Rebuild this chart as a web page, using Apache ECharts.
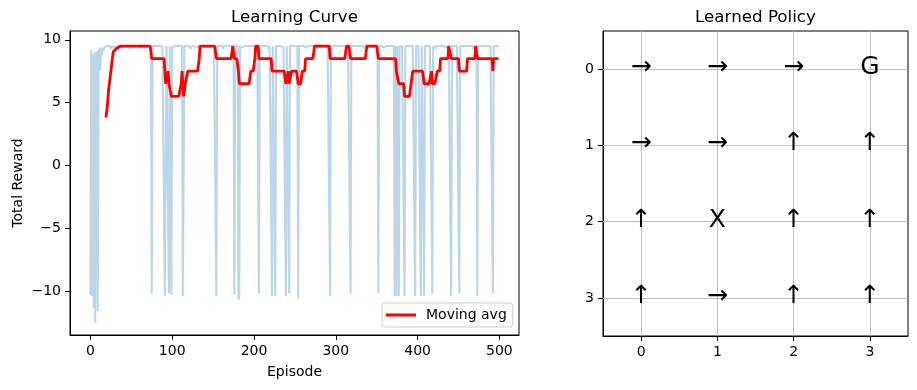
<!DOCTYPE html>
<html><head><meta charset="utf-8">
<script src="https://cdn.jsdelivr.net/npm/echarts@6/dist/echarts.min.js"></script>
<style>html,body{margin:0;padding:0;background:#fff}#c{width:917px;height:390px}</style>
</head><body><div id="c"></div>
<script>
// ---------- data ----------
const MA_START = 19; // first episode with a 20-episode moving average

// total reward per episode (0..499)
const rewards = [
 -10.3,9.2,-10.4,8.8,-11.4,9.0,-12.5,8.6,9.1,-11.6,8.9,9.3,7.6,9.4,8.8,9.3,9.1,9.4,9.4,9.5,
 9.5,9.5,9.4,9.5,9.5,9.3,9.5,9.5,9.5,9.4,9.5,9.5,9.5,9.5,9.2,9.5,9.5,9.5,9.4,9.5,
 9.5,9.5,9.5,9.4,9.5,9.5,9.5,9.5,9.3,9.5,9.5,9.5,9.5,9.5,9.4,9.5,9.5,9.5,9.5,9.5,
 9.5,9.4,9.5,9.5,9.5,9.5,9.5,9.3,9.5,9.5,9.5,9.5,9.5,9.5,9.5,-10.2,9.5,9.5,9.4,9.5,
 9.5,9.5,9.5,9.5,9.4,9.5,9.5,9.5,9.5,9.5,9.5,-10.4,-10.3,9.5,9.5,9.5,-10.2,9.5,9.5,-10.3,
 9.4,9.5,9.5,9.5,9.5,9.5,9.5,9.5,9.5,9.5,9.5,9.5,9.5,-10.4,-10.3,9.5,9.5,9.4,9.5,9.5,
 9.5,9.5,9.5,9.3,9.5,9.5,9.5,9.5,9.5,9.5,9.4,9.5,9.5,9.5,9.5,9.5,9.5,9.5,9.5,9.5,
 9.5,9.5,9.5,9.5,9.5,9.4,9.5,9.5,9.5,9.5,9.5,9.5,9.5,9.5,-10.4,9.5,9.5,9.5,9.5,9.5,
 9.5,9.5,9.3,9.5,9.5,9.5,9.5,9.5,9.5,9.5,9.5,9.5,9.5,9.5,9.5,9.5,-10.3,9.5,9.5,9.5,
 9.5,-10.7,-10.4,9.5,9.5,9.5,9.4,9.5,9.5,9.5,9.5,9.5,9.5,9.5,9.5,9.5,9.5,9.5,9.5,9.5,
 9.5,9.5,9.5,9.5,9.5,9.5,-10.2,9.5,9.5,9.5,9.5,9.4,9.5,9.5,9.5,9.5,9.5,9.5,9.3,9.5,
 9.5,9.5,-10.4,9.5,9.5,9.5,-10.4,9.5,9.5,9.5,9.5,9.5,9.5,9.5,9.5,9.5,9.4,9.5,9.5,-10.4,
 9.5,9.5,9.5,-10.2,9.5,9.5,9.5,9.5,9.5,9.5,9.5,9.5,9.5,9.5,-10.6,9.5,9.5,9.5,9.5,9.5,
 9.5,9.5,9.5,9.5,9.4,9.5,9.5,9.5,9.5,9.5,9.5,9.5,9.5,9.5,9.5,9.5,9.5,9.3,9.5,9.5,
 9.5,9.5,9.5,9.5,9.5,9.5,9.5,9.5,9.5,9.5,9.5,9.5,9.5,-10.4,9.5,9.5,9.5,9.5,9.4,9.5,
 9.5,9.5,9.5,9.5,9.5,9.5,9.5,9.5,9.5,9.5,9.5,9.5,9.5,9.5,9.5,9.5,9.5,9.5,-10.2,9.5,
 9.5,9.5,9.5,9.4,9.5,9.5,9.5,9.5,9.5,9.5,9.5,9.5,9.5,9.5,9.5,9.3,9.5,9.5,9.5,9.5,
 9.5,9.5,9.5,9.5,9.5,9.5,9.5,9.5,9.5,9.5,9.5,9.5,-10.2,9.5,9.5,9.5,9.5,9.5,9.5,9.4,
 9.5,9.5,9.5,9.5,9.5,9.5,9.5,9.5,9.5,9.5,9.5,9.5,-10.4,9.5,-10.4,9.5,9.5,-10.4,9.5,9.5,
 9.5,9.5,9.5,9.5,-10.4,9.5,9.5,9.5,9.5,9.5,9.4,9.5,9.5,9.5,9.5,9.5,9.5,-10.4,9.5,9.5,
 9.5,9.5,9.5,9.5,-10.4,9.5,9.5,9.5,-10.4,9.5,9.5,9.5,9.5,9.5,9.5,9.5,9.5,9.5,-10.2,9.5,
 9.5,9.5,9.3,9.5,9.5,9.5,9.5,9.5,9.5,9.5,9.5,9.5,9.5,9.5,9.5,9.4,9.5,9.5,9.5,9.5,
 9.5,-10.4,9.5,9.5,9.5,9.5,9.5,9.5,9.5,9.5,9.5,-10.2,9.5,9.5,9.5,9.5,9.5,9.4,9.5,9.5,
 9.5,9.5,9.5,9.5,9.5,9.5,9.5,9.5,9.3,9.5,9.5,9.5,9.5,-10.4,9.5,9.5,9.5,9.5,9.5,9.5,
 9.5,9.5,9.5,9.5,9.5,9.5,9.5,9.5,9.4,9.5,9.5,9.5,-10.2,9.5,9.5,9.5,9.5,9.5,9.5,9.5
];

// 20-episode moving average, episodes 19..499
const movingAvg = [
 3.8,3.85,4.9,5.9,5.95,6.95,7.0,8.05,8.6,9.05,9.1,9.2,9.25,9.3,9.35,9.4,9.45,9.45,9.5,9.5,9.5, // 19-39
 9.5,9.5,9.5,9.5,9.5,9.5,9.5,9.5,9.5,9.5, 9.5,9.5,9.5,9.5,9.5,9.5,9.5,9.5,9.5,9.5, 9.5,9.5,9.5,9.5,9.5,9.5,9.5,9.5,9.5,9.5, 9.5,9.5,9.5,9.5,9.5, // 40-74
 8.5,8.5,8.5,8.5,8.5,8.5,8.5,8.5,8.5,8.5, 8.5,8.5,8.5,8.5,8.5,8.5, // 75-90
 7.5, 6.5,6.5,6.5, 7.5, 6.5,6.5,6.5, // 91-98
 5.5,5.5,5.5,5.5,5.5,5.5,5.5,5.5,5.5,5.5,5.5,5.5, // 99-110
 6.5,7.5,6.5, 5.5,5.5, 6.5,6.5,6.5, // 111-118
 7.5,7.5,7.5,7.5,7.5,7.5,7.5,7.5,7.5,7.5,7.5,7.5,7.5,7.5, // 119-132
 8.5, // 133
 9.5,9.5,9.5,9.5,9.5,9.5,9.5,9.5,9.5,9.5, 9.5,9.5,9.5,9.5,9.5,9.5,9.5,9.5,9.5,9.5, // 134-153
 8.5,8.5,8.5,8.5,8.5,8.5,8.5,8.5,8.5,8.5, 8.5,8.5,8.5,8.5,8.5,8.5,8.5,8.5,8.5,8.5, // 154-173
 9.5,9.5, 8.5,8.5,8.5,8.5,8.5, 7.5, // 174-181
 6.5,6.5,6.5,6.5,6.5,6.5,6.5,6.5,6.5,6.5,6.5,6.5,6.5,6.5, // 182-195
 7.5,7.5,7.5,7.5,7.5, 8.5, 9.5,9.5,9.5,9.5, // 196-205
 8.5,8.5,8.5,8.5,8.5,8.5,8.5,8.5,8.5,8.5,8.5,8.5,8.5,8.5,8.5,8.5, // 206-221
 7.5,7.5,7.5,7.5,7.5,7.5,7.5,7.5,7.5,7.5,7.5,7.5,7.5,7.5,7.5,7.5,7.5, // 222-238
 6.5,6.5,6.5, 7.5, 6.5,6.5,6.5, // 239-245
 7.5,7.5,7.5,7.5,7.5,7.5,7.5,7.5, // 246-253
 6.5,6.5,6.5,6.5,6.5, 7.5,7.5,7.5,7.5, // 254-262
 8.5,8.5,8.5,8.5,8.5,8.5,8.5,8.5,8.5,8.5,8.5, // 263-273
 9.5,9.5,9.5,9.5,9.5,9.5,9.5,9.5,9.5,9.5,9.5,9.5,9.5,9.5,9.5,9.5,9.5,9.5,9.5, // 274-292
 8.5,8.5,8.5,8.5,8.5,8.5,8.5,8.5,8.5,8.5, 8.5,8.5,8.5,8.5,8.5,8.5,8.5,8.5,8.5,8.5, // 293-312
 9.5,9.5,9.5,9.5,9.5, // 313-317
 8.5,8.5,8.5,8.5,8.5,8.5,8.5,8.5,8.5,8.5, 8.5,8.5,8.5,8.5,8.5,8.5,8.5,8.5,8.5,8.5, // 318-337
 9.5,9.5,9.5,9.5,9.5,9.5,9.5,9.5,9.5,9.5,9.5,9.5,9.5,9.5, // 338-351
 8.5,8.5,8.5,8.5,8.5,8.5,8.5,8.5,8.5,8.5, 8.5,8.5,8.5,8.5,8.5,8.5,8.5,8.5,8.5,8.5, 8.5,8.5, // 352-373
 7.5,7.5,7.5, 6.5,6.5,6.5,6.5,6.5,6.5,6.5, // 374-383
 5.5,5.5,5.5,5.5,5.5,5.5,5.5,5.5, 6.5,6.5, // 384-393
 7.5,7.5,7.5,7.5,7.5,7.5,7.5,7.5,7.5,7.5,7.5,7.5,7.5,7.5, // 394-407
 6.5,6.5,6.5,6.5,6.5,6.5,6.5,6.5,6.5, 7.5, // 408-417
 6.5,6.5,6.5,6.5,6.5,6.5, 7.5,7.5,7.5,7.5, // 418-427
 8.5,8.5,8.5,8.5,8.5,8.5,8.5,8.5,8.5,8.5, 9.5,9.5,9.5, // 428-440
 8.5,8.5,8.5,8.5,8.5,8.5,8.5,8.5,8.5,8.5, // 441-450
 7.5,7.5,7.5,7.5,7.5,7.5,7.5,7.5,7.5,7.5, // 451-460
 8.5,8.5,8.5,8.5,8.5,8.5,8.5,8.5,8.5,8.5, 9.5,9.5, // 461-472
 8.5,8.5,8.5,8.5,8.5,8.5,8.5,8.5,8.5,8.5,8.5,8.5,8.5,8.5,8.5,8.5,8.5,8.5,8.5, // 473-491
 7.5, 8.5,8.5,8.5,8.5,8.5,8.5,8.5 // 492-499
];

const episodeTicks = [0, 100, 200, 300, 400, 500];
const rewardTicks = [-10, -5, 0, 5, 10];
const policyCols = [0, 1, 2, 3];
const policyRows = [0, 1, 2, 3];
const policy = [
  ['→', '→', '→', 'G'],
  ['→', '→', '↑', '↑'],
  ['↑', 'X', '↑', '↑'],
  ['↑', '→', '↑', '↑']
];

// ---------- chart ----------
const FONT = 'DejaVu Sans';
const minusFmt = v => (v < 0 ? '\u2212' + Math.abs(v) : String(v));
const rawData = rewards.map((v, i) => [i, v]);
const maData = movingAvg.map((v, i) => [MA_START + i, v]);
const cells = [];
policyRows.forEach(r => policyCols.forEach(c => cells.push([c, r, policy[r][c]])));

function axisCommon(ticks, extra) {
  return Object.assign({
    type: 'value',
    axisLine: { show: true, onZero: false, lineStyle: { color: '#000', width: 1 } },
    axisTick: { show: true, inside: false, length: 5, customValues: ticks, lineStyle: { color: '#000', width: 1 } },
    axisLabel: { show: true, customValues: ticks, margin: 9, color: '#000', fontSize: 14, fontFamily: FONT, formatter: minusFmt },
    splitLine: { show: false }
  }, extra);
}

const chart = echarts.init(document.getElementById('c'), null, { renderer: 'canvas' });
chart.setOption({
  animation: false,
  backgroundColor: '#fff',
  title: [
    { text: 'Learning Curve', left: 294.5, top: 9, textAlign: 'center', padding: 0,
      textStyle: { fontSize: 16.7, fontWeight: 'normal', color: '#000', fontFamily: FONT } },
    { text: 'Learned Policy', left: 755.5, top: 9, textAlign: 'center', padding: 0,
      textStyle: { fontSize: 16.7, fontWeight: 'normal', color: '#000', fontFamily: FONT } }
  ],
  legend: {
    data: ['Moving avg'], left: 382, top: 303, orient: 'horizontal',
    padding: [5, 6, 5, 4], itemWidth: 30, itemHeight: 3, icon: 'rect',
    borderColor: '#cccccc', borderWidth: 1, borderRadius: 3, backgroundColor: 'rgba(255,255,255,0.8)',
    textStyle: { fontSize: 14, color: '#000', fontFamily: FONT, padding: [0, 0, 0, 5] },
    selectedMode: false
  },
  grid: [
    { left: 70, top: 31, width: 449, height: 304, show: true, borderColor: '#000', borderWidth: 1, backgroundColor: 'transparent' },
    { left: 603, top: 31, width: 305, height: 305, show: true, borderColor: '#000', borderWidth: 1, backgroundColor: 'transparent' }
  ],
  xAxis: [
    axisCommon(episodeTicks, { gridIndex: 0, min: -24.95, max: 523.95,
      name: 'Episode', nameLocation: 'middle', nameGap: 30,
      nameTextStyle: { fontSize: 14, color: '#000', fontFamily: FONT } }),
    axisCommon(policyCols, { gridIndex: 1, min: -0.5, max: 3.5 })
  ],
  yAxis: [
    axisCommon(rewardTicks, { gridIndex: 0, min: -13.5, max: 10.7,
      name: 'Total Reward', nameLocation: 'middle', nameGap: 45,
      nameTextStyle: { fontSize: 14, color: '#000', fontFamily: FONT } }),
    axisCommon(policyRows, { gridIndex: 1, min: -0.5, max: 3.5, inverse: true })
  ],
  series: [
    { name: 'raw', type: 'line', xAxisIndex: 0, yAxisIndex: 0, data: rawData,
      symbol: 'none', showSymbol: false, z: 2,
      lineStyle: { color: '#1f77b4', width: 2.1, opacity: 0.3 }, itemStyle: { color: '#1f77b4' } },
    { name: 'Moving avg', type: 'line', xAxisIndex: 0, yAxisIndex: 0, data: maData,
      symbol: 'none', showSymbol: false, z: 3,
      lineStyle: { color: '#ff0000', width: 2.8 }, itemStyle: { color: '#ff0000' } },
    { name: 'policy', type: 'scatter', xAxisIndex: 1, yAxisIndex: 1, data: cells,
      symbolSize: 0, itemStyle: { color: '#000', opacity: 1 }, silent: true, z: 5,
      label: { show: true, position: 'inside', offset: [0, -1.5], formatter: p => p.value[2],
        fontSize: 25, color: '#000', opacity: 1, fontFamily: FONT },
      markLine: { silent: true, symbol: 'none', label: { show: false }, z: 1,
        lineStyle: { color: '#b0b0b0', width: 0.8, type: 'solid', opacity: 1 },
        emphasis: { disabled: true },
        data: policyCols.map(c => ({ xAxis: c })).concat(policyRows.map(r => ({ yAxis: r }))) } }
  ]
});
</script></body></html>
